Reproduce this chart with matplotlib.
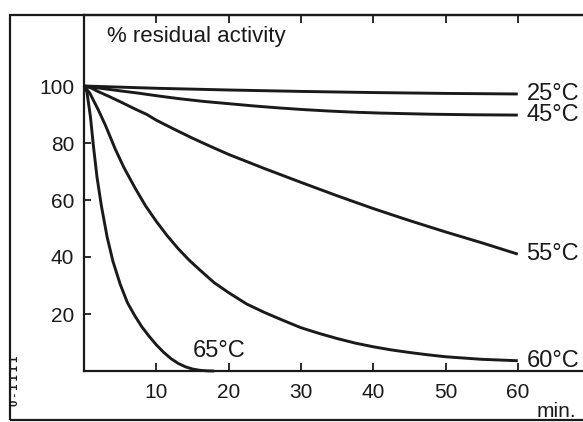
import matplotlib
matplotlib.use("Agg")
import matplotlib.pyplot as plt
from matplotlib.patches import Rectangle

plt.rcParams["font.family"] = ["Liberation Sans", "DejaVu Sans"]

# residual activity (%) vs incubation time (min) at each temperature
t25 = [0, 10, 20, 30, 40, 50, 60]
v25 = [100, 99.2, 98.6, 98.1, 97.7, 97.4, 97.2]

t45 = [0, 1, 2, 3.5, 5, 7.5, 10, 13, 16.5, 20, 23.5, 27, 30.5, 34, 37.5, 41, 44.5, 48, 54, 60]
v45 = [100, 99.7, 99.3, 98.8, 98.3, 97.5, 96.6, 95.6, 94.6, 93.8, 93, 92.3, 91.7, 91.2,
       90.8, 90.5, 90.3, 90.1, 89.9, 89.8]

t55 = [0, 1, 2, 3.5, 5, 7, 8.7, 10, 12.5, 15, 17.5, 20, 25, 30, 35, 40, 45, 50, 55, 60]
v55 = [100, 99.3, 98, 96.3, 94.5, 92, 90, 88, 84.8, 81.7, 78.8, 76, 71, 66.2, 61.5,
       57, 52.8, 48.8, 45, 41]

t60 = [0, 0.8, 2, 3, 4.3, 5.5, 7, 8.5, 10, 11.5, 13, 14.5, 16, 18, 20, 22.5, 25, 27.5,
       30, 32.5, 35, 37.5, 40, 42.5, 45, 47.5, 50, 55, 60]
v60 = [100, 97.5, 91.5, 86, 78, 71.5, 64.5, 58, 52.5, 47.5, 43, 39, 35.5, 31, 27.5,
       23.5, 20.5, 17.8, 15.2, 13.2, 11.4, 9.8, 8.5, 7.4, 6.5, 5.7, 5, 4.1, 3.6]

t65 = [0, 0.4, 0.9, 1.3, 1.8, 2.4, 3.2, 4, 5, 6, 7, 8, 9, 10, 11, 12, 13, 14, 15, 16, 17, 18]
v65 = [100, 98, 89, 79, 68, 58, 47, 38.5, 30.5, 24, 19.5, 15.5, 12.2, 9.2, 6.6, 4.4,
       2.7, 1.5, 0.7, 0.25, 0.05, 0]

curves = [(t25, v25, "25°C"), (t45, v45, "45°C"), (t55, v55, "55°C"),
          (t60, v60, "60°C"), (t65, v65, "65°C")]

xticks = [10, 20, 30, 40, 50, 60]
yticks = [20, 40, 60, 80, 100]

W, H = 583, 422
fig = plt.figure(figsize=(W / 100, H / 100), dpi=100)

# axes box in pixels: x 84..583, y 15..371
ax = fig.add_axes([84 / W, 1 - 371 / H, 1 - 84 / W, (371 - 15) / H])
px_per_min = 7.23
px_per_pct = 2.85
ax.set_xlim(0, (W - 84) / px_per_min)
ax.set_ylim(0, (371 - 15) / px_per_pct)

for t, v, name in curves:
    ax.plot(t, v, color="#1a1a1a", lw=2.1, solid_capstyle="butt",
            solid_joinstyle="round", clip_on=False)

for t, v, name in curves[:4]:
    ax.text(t[-1] + 1.2, v[-1], name, fontsize=17, va="center", ha="left",
            color="#1a1a1a", clip_on=False)
ax.text(15.1, 4.9, "65°C", fontsize=17, va="baseline", ha="left", color="#1a1a1a")

ax.text(0.046, 0.94, "% residual activity", transform=ax.transAxes,
        fontsize=16, va="center", ha="left", color="#1a1a1a")

ax.set_xticks(xticks)
ax.set_yticks(yticks)
ax.tick_params(axis="x", direction="in", length=6, width=1.3, pad=9,
               labelsize=15, top=True, colors="#1a1a1a")
ax.tick_params(axis="y", direction="in", length=5, width=1.3, pad=7,
               labelsize=15, colors="#1a1a1a")
ax.spines["right"].set_visible(False)
for s in ["left", "bottom", "top"]:
    ax.spines[s].set_linewidth(1.6)
    ax.spines[s].set_color("#1a1a1a")

# outer frame of the scanned figure
fig.add_artist(Rectangle((10 / W, 1 - 420 / H), 1.2, (420 - 15) / H,
                         transform=fig.transFigure, fill=False,
                         lw=1.6, edgecolor="#1a1a1a"))

fig.text(537 / W, 1 - 421 / H, "min.", fontsize=15, ha="left", va="bottom",
         color="#1a1a1a")
fig.text(15 / W, 1 - 381 / H, "0 - 1 1 1 1", fontsize=8, fontweight="bold",
         rotation=90, ha="center", va="center", color="#1a1a1a")

fig.savefig("out.png", dpi=100)
